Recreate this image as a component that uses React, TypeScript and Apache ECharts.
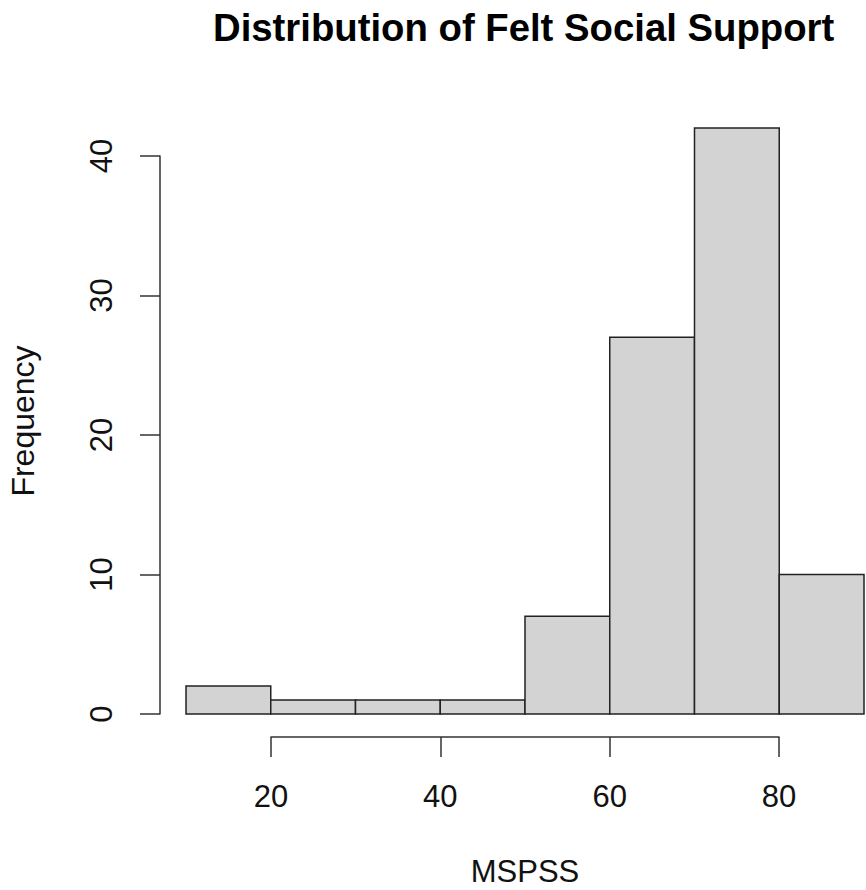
import React, { useEffect, useRef } from "react";
import * as echarts from "echarts";

const binStarts = [10, 20, 30, 40, 50, 60, 70, 80];
const binEnds = [20, 30, 40, 50, 60, 70, 80, 90];
const counts = [2, 1, 1, 1, 7, 27, 42, 10];
const xTicks = [20, 40, 60, 80];
const yTicks = [0, 10, 20, 30, 40];

const FONT = "'Liberation Sans', Arial, Helvetica, sans-serif";

export default function App() {
  const ref = useRef<HTMLDivElement>(null);
  useEffect(() => {
    if (!ref.current) return;
    const chart = echarts.init(ref.current, null, { renderer: "svg" });
    const data = counts.map((c, i) => [binStarts[i], binEnds[i], c]);
    const axisLine = { show: true, lineStyle: { color: "#333", width: 1.5 } };
    const labelStyle = { color: "#111", fontSize: 31, lineHeight: 31, fontFamily: FONT };
    chart.setOption({
      animation: false,
      backgroundColor: "#fff",
      title: {
        text: "Distribution of Felt Social Support",
        left: 213,
        top: 8,
        padding: 0,
        textStyle: { fontSize: 38.3, lineHeight: 38, fontWeight: "bold", color: "#000", fontFamily: FONT },
      },
      grid: [
        { left: 186, right: 2, top: 16.5, bottom: 176 },
        { left: 160, width: 1, top: 156, bottom: 176 },
        { left: 271, right: 87, top: 736, bottom: 153 },
        { left: 160, width: 1, top: 128, bottom: 176 },
      ],
      xAxis: [
        { gridIndex: 0, type: "value", min: 10, max: 90, show: false },
        { gridIndex: 1, type: "value", min: 0, max: 1, show: false },
        {
          gridIndex: 2,
          type: "value",
          min: xTicks[0],
          max: xTicks[xTicks.length - 1],
          interval: xTicks[1] - xTicks[0],
          position: "bottom",
          axisLine,
          axisTick: { show: true, length: 20, lineStyle: { color: "#333", width: 1.5 } },
          axisLabel: { ...labelStyle, margin: 44, showMinLabel: true, showMaxLabel: true },
          splitLine: { show: false },
          name: "MSPSS",
          nameLocation: "middle",
          nameGap: 119,
          nameTextStyle: { color: "#111", fontSize: 31, lineHeight: 31, fontFamily: FONT },
        },
        { gridIndex: 3, type: "value", min: 0, max: 1, show: false },
      ],
      yAxis: [
        { gridIndex: 0, type: "value", min: 0, max: 50, show: false },
        {
          gridIndex: 1,
          type: "value",
          min: yTicks[0],
          max: yTicks[yTicks.length - 1],
          interval: yTicks[1] - yTicks[0],
          position: "left",
          axisLine,
          axisTick: { show: true, length: 20, lineStyle: { color: "#333", width: 1.5 } },
          axisLabel: { ...labelStyle, rotate: 90, margin: 43, showMinLabel: true, showMaxLabel: true },
          splitLine: { show: false },
        },
        { gridIndex: 2, type: "value", min: 0, max: 1, show: false },
        {
          gridIndex: 3,
          type: "value",
          min: 0,
          max: 42,
          position: "left",
          axisLine: { show: false },
          axisTick: { show: false },
          axisLabel: { show: false },
          splitLine: { show: false },
          name: "Frequency",
          nameLocation: "middle",
          nameGap: 121,
          nameRotate: 90,
          nameTextStyle: { color: "#111", fontSize: 32, lineHeight: 32, fontFamily: FONT },
        },
      ],
      series: [
        {
          type: "custom",
          xAxisIndex: 0,
          yAxisIndex: 0,
          data,
          encode: { x: [0, 1], y: 2 },
          renderItem: (params: any, api: any) => {
            const s = api.value(0);
            const e = api.value(1);
            const c = api.value(2);
            const p0 = api.coord([s, 0]);
            const p1 = api.coord([e, c]);
            return {
              type: "rect",
              shape: { x: p0[0], y: p1[1], width: p1[0] - p0[0], height: p0[1] - p1[1] },
              style: { fill: "#d3d3d3", stroke: "#222", lineWidth: 1.5 },
            };
          },
        },
      ],
    });
    return () => chart.dispose();
  }, []);
  return (
    <div
      ref={ref}
      style={{ position: "fixed", left: 0, top: 0, width: 866, height: 890, background: "#fff" }}
    />
  );
}
